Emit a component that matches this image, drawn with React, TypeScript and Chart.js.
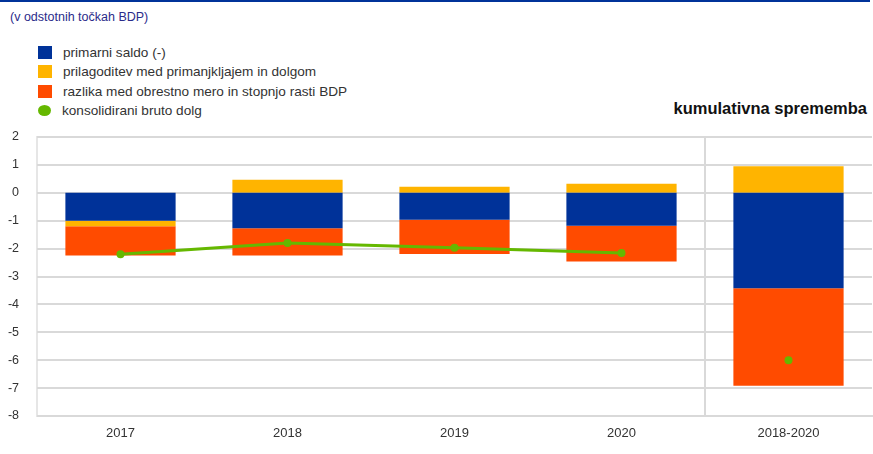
import React, { useEffect, useRef } from "react";
import { Chart, registerables } from "chart.js";
Chart.register(...registerables);

const categories = ["2017", "2018", "2019", "2020", "2018-2020"];
const primaryBalance = [-1.0, -1.27, -0.97, -1.18, -3.42];
const deficitDebtAdjustment = [-0.2, 0.47, 0.22, 0.32, 0.95];
const interestGrowthDifferential = [-1.05, -0.98, -1.22, -1.28, -3.5];
const grossDebtAnnual = [-2.2, -1.8, -1.97, -2.16, null];
const grossDebtCumulative = [null, null, null, null, -6.0];
const yMin = -8;
const yMax = 2;

const legendItems = [
  { label: "primarni saldo (-)", color: "#003299", shape: "square" },
  { label: "prilagoditev med primanjkljajem in dolgom", color: "#ffb400", shape: "square" },
  { label: "razlika med obrestno mero in stopnjo rasti BDP", color: "#ff4b00", shape: "square" },
  { label: "konsolidirani bruto dolg", color: "#65b800", shape: "circle" },
];

const FONT = "'Liberation Sans', Arial, sans-serif";

const hGrid = {
  id: "hGrid",
  beforeDatasetsDraw(chart: any) {
    const { ctx, chartArea } = chart;
    const y = chart.scales.y;
    ctx.save();
    ctx.strokeStyle = "#d9d9d9";
    ctx.lineWidth = 2;
    y.ticks.forEach((t: any) => {
      const py = Math.round(y.getPixelForValue(t.value));
      ctx.beginPath();
      ctx.moveTo(chartArea.left, py);
      ctx.lineTo(chartArea.right, py);
      ctx.stroke();
    });
    ctx.restore();
  },
};

export default function App() {
  const ref = useRef<HTMLCanvasElement | null>(null);
  useEffect(() => {
    document.body.style.margin = "0";
    const ctx = ref.current!.getContext("2d")!;
    const chart = new Chart(ctx, {
      type: "bar",
      data: {
        labels: categories,
        datasets: [
          { type: "bar", label: legendItems[0].label, data: primaryBalance, backgroundColor: "#003299", stack: "bars", order: 1, categoryPercentage: 1, barPercentage: 0.66 },
          { type: "bar", label: legendItems[1].label, data: deficitDebtAdjustment, backgroundColor: "#ffb400", stack: "bars", order: 1, categoryPercentage: 1, barPercentage: 0.66 },
          { type: "bar", label: legendItems[2].label, data: interestGrowthDifferential, backgroundColor: "#ff4b00", stack: "bars", order: 1, categoryPercentage: 1, barPercentage: 0.66 },
          { type: "line", label: legendItems[3].label, data: grossDebtAnnual, borderColor: "#65b800", backgroundColor: "#65b800", borderWidth: 3, pointRadius: 4, pointBorderWidth: 0, stack: "debtA", order: 0, spanGaps: false },
          { type: "line", label: legendItems[3].label + " (kumulativno)", data: grossDebtCumulative, borderColor: "#65b800", backgroundColor: "#65b800", showLine: false, pointRadius: 4, pointBorderWidth: 0, stack: "debtB", order: 0 },
        ] as any,
      },
      options: {
        animation: false,
        responsive: false,
        maintainAspectRatio: false,
        layout: { padding: { top: 137, right: 0, left: 0, bottom: 0 } },
        plugins: { legend: { display: false }, tooltip: { enabled: false }, title: { display: false } },
        scales: {
          x: {
            stacked: true,
            afterFit: (s: any) => { s.height = 38; },
            grid: {
              offset: true,
              drawTicks: false,
              tickLength: 0,
              lineWidth: 2,
              color: (c: any) => (c.index === 4 ? "#d9d9d9" : "rgba(0,0,0,0)"),
            },
            border: { display: true, color: "#d9d9d9", width: 2 },
            ticks: { color: "#333", font: { family: FONT, size: 13 }, padding: 10 },
          },
          y: {
            stacked: true,
            min: yMin,
            max: yMax,
            afterFit: (s: any) => { s.width = 37; },
            grid: { display: false },
            border: { display: true, color: "#e6e6e6", width: 2 },
            ticks: { stepSize: 1, color: "#333", font: { family: FONT, size: 12.5 }, padding: 10 },
          },
        },
      } as any,
      plugins: [hGrid],
    });
    return () => chart.destroy();
  }, []);

  return (
    <div style={{ position: "relative", width: 873, height: 454, overflow: "hidden", fontFamily: FONT, background: "#fff" }}>
      <div style={{ position: "absolute", left: 0, top: 0, width: 870, height: 2, background: "#003299" }} />
      <div style={{ position: "absolute", left: 10, top: 10, fontSize: 12.5, color: "#2b2b8a" }}>(v odstotnih točkah BDP)</div>
      {legendItems.map((it, i) => (
        <div key={i} style={{ position: "absolute", left: 38, top: 45 + i * 19.5, height: 14, display: "flex", alignItems: "center" }}>
          <span style={{ display: "inline-block", flex: "none", width: it.shape === "circle" ? 13 : 14, height: it.shape === "circle" ? 11 : 13, borderRadius: it.shape === "circle" ? "50%" : 0, background: it.color }} />
          <span style={{ marginLeft: 11, fontSize: 13.6, color: "#333", whiteSpace: "nowrap" }}>{it.label}</span>
        </div>
      ))}
      <div style={{ position: "absolute", right: 6, top: 99, fontSize: 16.5, fontWeight: "bold", color: "#111", whiteSpace: "nowrap" }}>kumulativna sprememba</div>
      <canvas ref={ref} width={876} height={454} style={{ position: "absolute", left: 0, top: 0 }} />
    </div>
  );
}
